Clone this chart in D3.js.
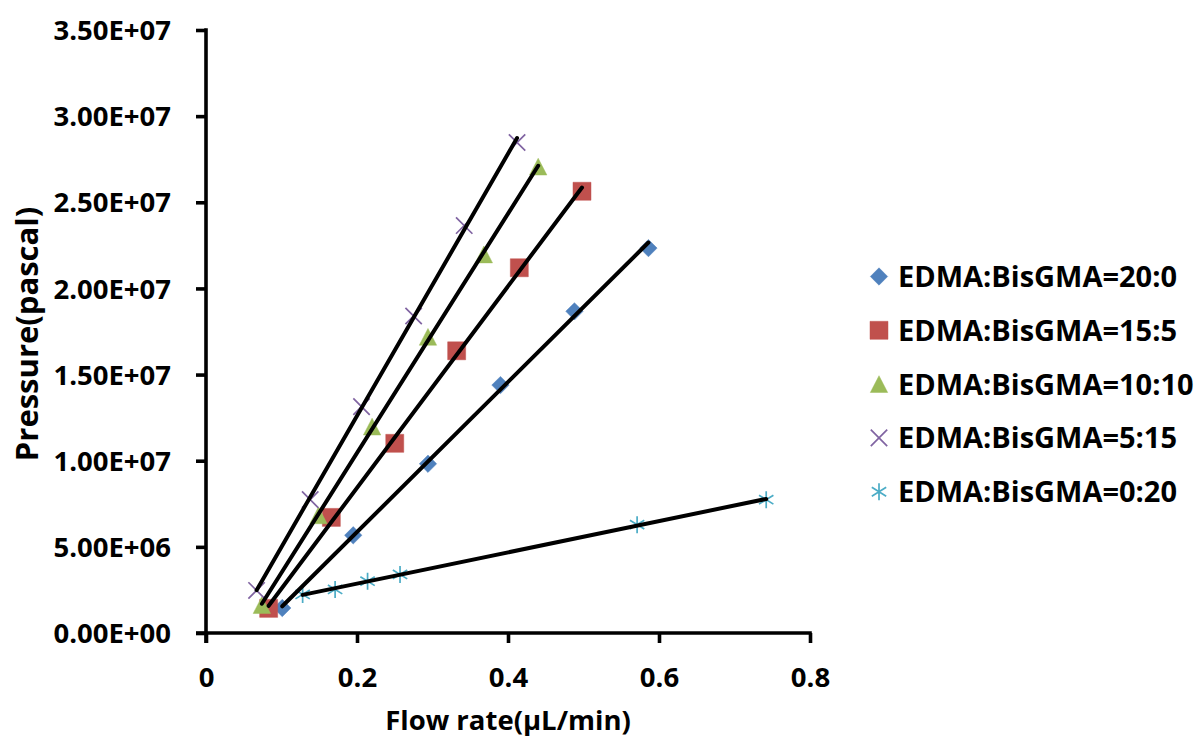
<!DOCTYPE html>
<html>
<head>
<meta charset="utf-8">
<script src="https://cdn.jsdelivr.net/npm/d3@7"></script>
<style>
  html, body { margin: 0; padding: 0; background: #fff; }
  svg { display: block; }
  text { font-family: "Open Sans", "Noto Sans", sans-serif; font-weight: 700; fill: #000; }
</style>
</head>
<body>
<script>
// Flow rate (µL/min) and pressure (Pa) for each EDMA:BisGMA ratio
const seriesNames = ["EDMA:BisGMA=20:0", "EDMA:BisGMA=15:5", "EDMA:BisGMA=10:10", "EDMA:BisGMA=5:15", "EDMA:BisGMA=0:20"];

const flow20_0 = [0.101, 0.195, 0.294, 0.390, 0.488, 0.586];
const pres20_0 = [1.45e6, 5.67e6, 9.82e6, 1.439e7, 1.867e7, 2.234e7];

const flow15_5 = [0.083, 0.166, 0.250, 0.332, 0.415, 0.498];
const pres15_5 = [1.43e6, 6.71e6, 1.101e7, 1.638e7, 2.12e7, 2.564e7];

const flow10_10 = [0.074, 0.149, 0.220, 0.294, 0.368, 0.440];
const pres10_10 = [1.62e6, 6.83e6, 1.198e7, 1.719e7, 2.197e7, 2.707e7];

const flow5_15 = [0.067, 0.138, 0.206, 0.275, 0.342, 0.412];
const pres5_15 = [2.47e6, 7.74e6, 1.314e7, 1.84e7, 2.365e7, 2.847e7];

const flow0_20 = [0.128, 0.171, 0.214, 0.257, 0.571, 0.742];
const pres0_20 = [2.24e6, 2.53e6, 3.01e6, 3.40e6, 6.29e6, 7.74e6];

const xTicks = [0, 0.2, 0.4, 0.6, 0.8];
const yTicks = [0, 5e6, 1e7, 1.5e7, 2e7, 2.5e7, 3e7, 3.5e7];
const yTickLabels = ["0.00E+00", "5.00E+06", "1.00E+07", "1.50E+07", "2.00E+07", "2.50E+07", "3.00E+07", "3.50E+07"];

const colors = ["#4F81BD", "#C0504D", "#9BBB59", "#8064A2", "#4BACC6"];
const shapes = ["diamond", "square", "triangle", "x", "star"];

const series = [
  [flow20_0, pres20_0],
  [flow15_5, pres15_5],
  [flow10_10, pres10_10],
  [flow5_15, pres5_15],
  [flow0_20, pres0_20]
].map(([fx, py], i) => ({
  name: seriesNames[i], color: colors[i], shape: shapes[i],
  points: fx.map((f, j) => ({ x: f, y: py[j] }))
}));

const W = 1198, H = 738;
const svg = d3.select("body").append("svg").attr("width", W).attr("height", H);

const x = d3.scaleLinear().domain([0, 0.8]).range([206, 810]);
const y = d3.scaleLinear().domain([0, 3.5e7]).range([633, 30]);

// marker path generator, centred on 0,0
function markerPath(shape) {
  const p = d3.path();
  if (shape === "diamond") {
    const r = 8.7;
    p.moveTo(0, -r); p.lineTo(r, 0); p.lineTo(0, r); p.lineTo(-r, 0); p.closePath();
  } else if (shape === "square") {
    const r = 9;
    p.rect(-r, -r, 2 * r, 2 * r);
  } else if (shape === "triangle") {
    const w = 8.7, h = 8.4;
    p.moveTo(0, -h); p.lineTo(w, h); p.lineTo(-w, h); p.closePath();
  } else if (shape === "x") {
    const r = 8.2;
    p.moveTo(-r, -r); p.lineTo(r, r); p.moveTo(r, -r); p.lineTo(-r, r);
  } else if (shape === "star") {
    const r = 8.5, d = 7.2;
    p.moveTo(0, -r); p.lineTo(0, r);
    p.moveTo(-d, -d * 0.62); p.lineTo(d, d * 0.62);
    p.moveTo(d, -d * 0.62); p.lineTo(-d, d * 0.62);
  }
  return p.toString();
}

function drawMarker(g, shape, color) {
  const stroked = shape === "x" || shape === "star";
  g.append("path")
    .attr("d", markerPath(shape))
    .attr("fill", stroked ? "none" : color)
    .attr("stroke", color)
    .attr("stroke-width", stroked ? 1.7 : 0.8)
    .attr("stroke-opacity", stroked ? 1 : 0.6);
}

// axes
const axisG = svg.append("g");
const yAxis = d3.axisLeft(y).tickValues(yTicks).tickSize(10).tickFormat((d, i) => yTickLabels[i]);
const xAxis = d3.axisBottom(x).tickValues(xTicks).tickSize(10).tickFormat(d => d === 0 ? "0" : d3.format(".1f")(d));

const gy = axisG.append("g").attr("transform", `translate(${x(0)},0)`).call(yAxis);
const gx = axisG.append("g").attr("transform", `translate(0,${y(0)})`).call(xAxis);

[gy, gx].forEach(g => {
  g.select(".domain").attr("stroke", "#000").attr("stroke-width", 3.6);
  g.selectAll(".tick line").attr("stroke", "#000").attr("stroke-width", 3.6);
  g.selectAll("text")
    .attr("font-family", "'Open Sans', sans-serif")
    .attr("font-weight", 800).attr("fill", "#000");
});
// domain lines as plain segments (no end caps)
gy.select(".domain").attr("d", `M0,${y(3.5e7) - 1.8}V${y(0) + 10}`);
gx.select(".domain").attr("d", `M${x(0) - 10},0H${x(0.8) + 1.8}`);

gy.selectAll(".tick text").attr("font-size", 27.5).attr("x", -35).attr("dy", "0.35em");
gx.selectAll(".tick text").attr("font-size", 27.5).attr("y", 34).attr("dy", "0.71em");

// axis titles
svg.append("text")
  .attr("x", (x(0) + x(0.8)) / 2).attr("y", 730)
  .attr("text-anchor", "middle").attr("font-size", 27.5)
  .text("Flow rate(μL/min)");
svg.append("text")
  .attr("transform", `translate(38,334) rotate(-90)`)
  .attr("text-anchor", "middle").attr("font-size", 31)
  .text("Pressure(pascal)");

// markers
const markG = svg.append("g");
series.forEach(s => {
  s.points.forEach(pt => {
    const g = markG.append("g").attr("transform", `translate(${x(pt.x)},${y(pt.y)})`);
    drawMarker(g, s.shape, s.color);
  });
});

// linear trendlines (least squares), spanning each series' flow range
const line = d3.line().x(d => x(d.x)).y(d => y(d.y));
const trendG = svg.append("g");
series.forEach(s => {
  const mx = d3.mean(s.points, d => d.x), my = d3.mean(s.points, d => d.y);
  const sxy = d3.sum(s.points, d => (d.x - mx) * (d.y - my));
  const sxx = d3.sum(s.points, d => (d.x - mx) ** 2);
  const slope = sxy / sxx, icpt = my - slope * mx;
  const [x0, x1] = d3.extent(s.points, d => d.x);
  trendG.append("path")
    .datum([{ x: x0, y: icpt + slope * x0 }, { x: x1, y: icpt + slope * x1 }])
    .attr("d", line)
    .attr("fill", "none").attr("stroke", "#000").attr("stroke-width", 4)
    .attr("stroke-linecap", "round");
});

// legend
const legend = svg.append("g");
series.forEach((s, i) => {
  const cy = 276.5 + i * 53.8;
  const g = legend.append("g").attr("transform", `translate(879,${cy})`);
  drawMarker(g, s.shape, s.color);
  legend.append("text")
    .attr("x", 898).attr("y", cy).attr("dy", "0.36em")
    .attr("font-size", 29)
    .text(s.name);
});
</script>
</body>
</html>
